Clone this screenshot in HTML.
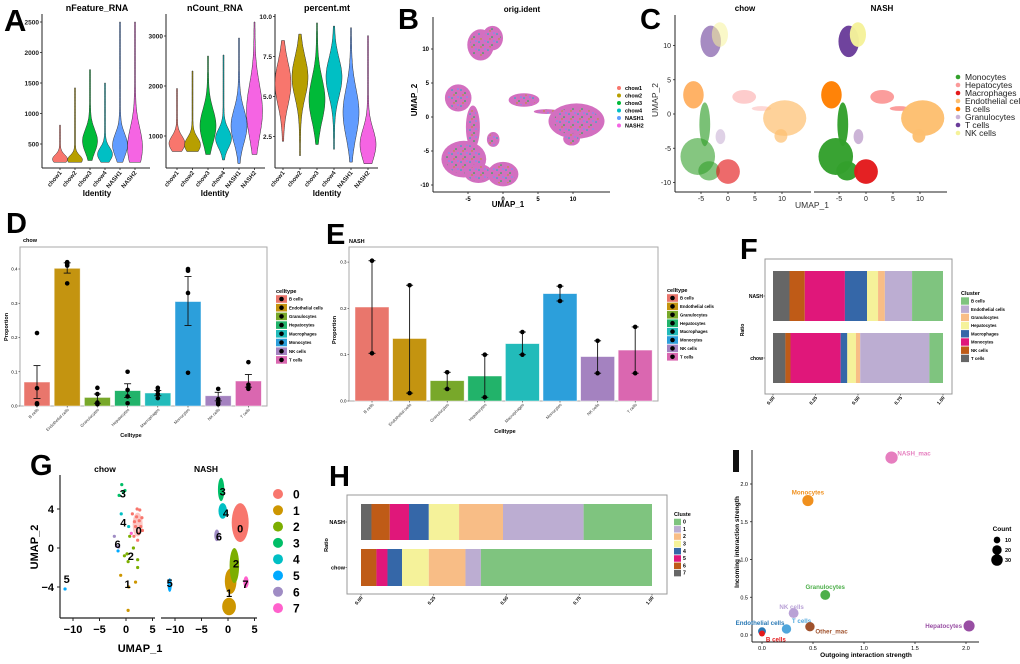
<!DOCTYPE html>
<html><head><meta charset="utf-8">
<style>
html,body{margin:0;padding:0;background:#fff;}
svg{display:block;font-family:"Liberation Sans",Arial,sans-serif;}
.b{font-weight:bold;}
</style></head>
<body>
<svg id="fig" width="1020" height="664" viewBox="0 0 1020 664" xmlns="http://www.w3.org/2000/svg">
<rect x="0" y="0" width="1020" height="664" fill="#fff"/>
<text x="4" y="31" font-size="31" class="b">A</text>
<text x="398" y="29" font-size="29" class="b">B</text>
<text x="640" y="29" font-size="29" class="b">C</text>
<text x="6" y="233" font-size="29" class="b">D</text>
<text x="326" y="244" font-size="29" class="b">E</text>
<text x="740" y="259" font-size="29" class="b">F</text>
<text x="30" y="475" font-size="29" class="b">G</text>
<text x="329" y="486" font-size="29" class="b">H</text>
<rect x="733" y="450" width="6" height="22" fill="#111"/>
<text x="97" y="11" font-size="9" class="b" text-anchor="middle">nFeature_RNA</text>
<text x="215" y="11" font-size="9" class="b" text-anchor="middle">nCount_RNA</text>
<text x="327" y="11" font-size="9" class="b" text-anchor="middle">percent.mt</text>
<text x="522" y="12" font-size="8" class="b" text-anchor="middle">orig.ident</text>
<text x="745" y="11" font-size="8" class="b" text-anchor="middle">chow</text>
<text x="882" y="11" font-size="8" class="b" text-anchor="middle">NASH</text>
<text x="23" y="242" font-size="5.5" class="b">chow</text>
<text x="349" y="243" font-size="5.5" class="b">NASH</text>
<text x="105" y="472" font-size="8.5" class="b" text-anchor="middle">chow</text>
<text x="206" y="472" font-size="8.5" class="b" text-anchor="middle">NASH</text>
<text x="97" y="196" font-size="8" class="b" text-anchor="middle">Identity</text>
<text x="215" y="196" font-size="8" class="b" text-anchor="middle">Identity</text>
<text x="327" y="196" font-size="8" class="b" text-anchor="middle">Identity</text>
<text x="508" y="207" font-size="8" class="b" text-anchor="middle">UMAP_1</text>
<text transform="translate(417,100) rotate(-90)" font-size="8" class="b" text-anchor="middle">UMAP_2</text>
<text x="812" y="208" font-size="8.5" text-anchor="middle" fill="#333">UMAP_1</text>
<text transform="translate(658,100) rotate(-90)" font-size="8.5" fill="#333" text-anchor="middle">UMAP_2</text>
<text x="131" y="437" font-size="5.5" class="b" text-anchor="middle">Celltype</text>
<text transform="translate(8,327) rotate(-90)" font-size="5.5" class="b" text-anchor="middle">Proportion</text>
<text x="505" y="433" font-size="5.5" class="b" text-anchor="middle">Celltype</text>
<text transform="translate(336,330) rotate(-90)" font-size="5.5" class="b" text-anchor="middle">Proportion</text>
<text transform="translate(744,330) rotate(-90)" font-size="5" class="b" text-anchor="middle">Ratio</text>
<text transform="translate(328,545) rotate(-90)" font-size="5.5" class="b" text-anchor="middle">Ratio</text>
<text x="140" y="652" font-size="11" class="b" text-anchor="middle">UMAP_1</text>
<text transform="translate(38,547) rotate(-90)" font-size="11" class="b" text-anchor="middle">UMAP_2</text>
<text x="866" y="657" font-size="6.5" class="b" text-anchor="middle">Outgoing interaction strength</text>
<text transform="translate(739,542) rotate(-90)" font-size="6.5" class="b" text-anchor="middle">Incoming interaction strength</text>
</svg>
<script>
const identities=['chow1','chow2','chow3','chow4','NASH1','NASH2'];
const featMin=[200,200,230,200,200,200];
const featCenter=[250,240,550,330,480,450];
const featSpread=[100,100,250,150,250,420];
const featMax=[810,1420,1720,1500,2500,2500];
const featTicks=[500,1000,1500,2000,2500];
const countMin=[690,690,630,520,450,630];
const countCenter=[850,820,1200,950,1200,1500];
const countSpread=[200,200,450,250,450,700];
const countMax=[1950,2300,2600,2620,2960,3280];
const countTicks=[1000,2000,3000];
const mtMin=[2.2,1.3,2.0,1.7,0.9,0.8];
const mtCenter=[5.8,6.2,4.8,6.2,4.0,2.0];
const mtSpread=[1.8,1.7,1.8,1.6,2.0,1.3];
const mtMax=[8.5,8.9,9.6,9.4,9.3,8.8];
const mtTicks=[2.5,5.0,7.5,10.0];

const umapTicksX=[-5,0,5,10];
const umapTicksY=[-10,-5,0,5,10];
const cellTypes=['Monocytes','Hepatocytes','Macrophages','Endothelial cells','B cells','Granulocytes','T cells','NK cells'];
const cellClusters=[[6,-3.2,10.6,1.9,2.3],[7,-1.5,11.6,1.5,1.8],[4,-6.4,2.8,1.9,2.0],[0,-4.3,-1.5,1.0,3.2],[0,-5.6,-6.2,3.2,2.7],[0,-3.5,-8.3,2.0,1.4],[2,0,-8.4,2.2,1.8],[5,-1.4,-3.3,0.9,1.1],[1,3,2.5,2.2,1.0],[1,6.2,0.8,1.8,0.35],[3,10.5,-0.6,4.0,2.6],[3,9.8,-3.2,1.2,1.0]];
const chowDensity=[0.6,0.55,0.6,0.65,0.6,0.6,0.65,0.6,0.5,0.4,0.7,0.7];

const ctNames=['B cells','Endothelial cells','Granulocytes','Hepatocytes','Macrophages','Monocytes','NK cells','T cells'];
const dMeans=[0.070,0.402,0.025,0.045,0.038,0.305,0.030,0.073];
const dLow=[0.022,0.388,0.008,0.025,0.030,0.235,0.015,0.055];
const dHigh=[0.118,0.418,0.035,0.065,0.045,0.378,0.040,0.092];
const dPoints=[[0.213,0.052,0.008,0.005],[0.420,0.415,0.410,0.358],[0.053,0.035,0.010,0.005],[0.100,0.047,0.028,0.008],[0.053,0.045,0.035,0.023],[0.400,0.395,0.330,0.097],[0.050,0.020,0.010,0.005],[0.128,0.062,0.055,0.050]];
const dTicks=[0,0.1,0.2,0.3,0.4];
const eMeans=[0.203,0.135,0.044,0.054,0.124,0.232,0.096,0.110];
const ePoints=[[0.303,0.103],[0.250,0.017],[0.062,0.026],[0.100,0.008],[0.149,0.100],[0.248,0.216],[0.130,0.060],[0.160,0.060]];
const eTicks=[0,0.1,0.2,0.3];

const fOrder=['T cells','NK cells','Monocytes','Macrophages','Hepatocytes','Granulocytes','Endothelial cells','B cells'];
const fNash=[0.097,0.090,0.236,0.130,0.065,0.040,0.160,0.182];
const fChow=[0.073,0.030,0.295,0.039,0.051,0.025,0.407,0.080];
const ratioTicks=[0,0.25,0.5,0.75,1.0];
const hOrder=['7','6','5','4','3','2','1','0'];
const hNash=[0.036,0.063,0.066,0.068,0.104,0.151,0.277,0.235];
const hChow=[0.000,0.053,0.038,0.050,0.092,0.126,0.053,0.588];

const gNash=[[0,2.3,2.6,1.6,2.0],[1,0.5,-3.4,1.1,1.3],[1,0.2,-6.0,1.3,0.9],[2,1.2,-1.8,0.9,1.8],[3,-1.3,6.0,0.6,1.2],[4,-1.0,3.8,0.8,0.8],[5,-11,-3.8,0.4,0.7],[6,-2.1,1.3,0.5,0.6],[7,3.4,-3.5,0.5,0.6]];
const gChowPts=[[0,1.2,3.5],[0,2,3.2],[0,2.5,2.8],[0,3,3.1],[0,1.8,2.2],[0,2.4,1.5],[0,1.5,1.2],[0,2.8,2.2],[0,2.1,4],[0,2.6,3.9],[0,1.6,2.7],[0,3.1,1.8],[0,2.2,0.8],
[1,-1,-2.8],[1,1.8,-3.5],[1,0.4,-6.4],[1,0.5,-4],[2,0.7,1.2],[2,1.4,0],[2,-0.3,-0.8],[2,0.4,-1.4],[2,2.2,-1.2],[2,2.2,-2],[2,0.2,-0.6],
[3,-0.8,6.5],[3,-1.3,5.4],[3,-0.5,5.7],[3,-0.2,5.9],[4,-0.9,3.5],[4,0.5,2.2],[5,-11.5,-4.2],[6,-2.2,1.2],[6,-1.8,0.2],[6,-1.4,0.1],[5,-1.5,-0.3],[7,1,1.5]];
const gLabels=[['0',2.3,2],['1',0.2,-4.6],['2',1.5,-1.6],['3',-1.0,5.8],['4',-0.4,3.6],['5',-11,-3.6],['6',-1.7,1.2],['7',3.3,-3.7]];
const gChowLabels=[['0',2.4,1.8],['1',0.3,-3.7],['2',0.9,-0.8],['3',-0.6,5.6],['4',-0.5,2.6],['5',-11.2,-3.2],['6',-1.6,0.4]];
const gTicksX=[-10,-5,0,5];
const gTicksY=[-4,0,4];

const iNames=['NASH_mac','Monocytes','Granulocytes','NK cells','T cells','Other_mac','Endothelial cells','B cells','Hepatocytes'];
const iOut=[1.27,0.45,0.62,0.31,0.24,0.47,0.00,0.00,2.03];
const iIn=[2.35,1.78,0.53,0.29,0.08,0.11,0.05,0.02,0.12];
const iCount=[34,28,22,22,20,20,14,8,28];
const iTicks=[0,0.5,1.0,1.5,2.0];
const iCountTicks=[10,20,30];

const NS='http://www.w3.org/2000/svg';
const svg=document.getElementById('fig');
function mk(tag,attrs,parent){const e=document.createElementNS(NS,tag);for(const k in attrs)e.setAttribute(k,attrs[k]);(parent||svg).appendChild(e);return e;}
function tx(x,y,s,attrs,parent){const e=mk('text',Object.assign({x:x,y:y},attrs),parent);e.textContent=s;return e;}
function grp(name){const g=mk('g',{});


return g;}
function line(x1,y1,x2,y2,c,w,p){return mk('line',{x1:x1,y1:y1,x2:x2,y2:y2,stroke:c,'stroke-width':w},p);}

const hueColors=['#F8766D','#B79F00','#00BA38','#00BFC4','#619CFF','#F564E3'];
function violinPanel(name,ax,axEnd,xs,ys,mins,cens,sprs,maxs,ticks,fmt,hw){
  const g=grp(name);
  line(ax,14,ax,168,'#222',1,g);line(ax,168,axEnd,168,'#222',1,g);
  ticks.forEach(t=>{const y=ys(t);line(ax-2,y,ax,y,'#222',0.8,g);
    const e=tx(ax-3,y+2.3,fmt(t),{'font-size':6.5,'font-weight':'bold','text-anchor':'end',fill:'#222'},g);
    
    });
  identities.forEach((id,i)=>{
    const cx=xs(i);let L=[],R=[];const n=50;
    for(let k=0;k<=n;k++){const v=mins[i]+(maxs[i]-mins[i])*k/n;const z=(v-cens[i])/sprs[i];
      const w=hw*Math.exp(-z*z*0.9)+0.5;L.push([cx-w,ys(v)]);R.push([cx+w,ys(v)]);}
    const d='M'+L.map(p=>p[0].toFixed(1)+','+p[1].toFixed(1)).join('L')+'L'+R.reverse().map(p=>p[0].toFixed(1)+','+p[1].toFixed(1)).join('L')+'Z';
    const p=mk('path',{d:d,fill:hueColors[i],stroke:'#333','stroke-width':0.5},g);
    
    
    line(cx,168,cx,170,'#222',0.8,g);
    const t=tx(0,0,id,{'font-size':6,'font-weight':'bold','text-anchor':'end',fill:'#222',transform:'translate('+(cx+2)+',173) rotate(-50)'},g);
    
    
  });
}
violinPanel('violin-nfeature',42,150,i=>60+i*15,v=>174.5-v*0.061,featMin,featCenter,featSpread,featMax,featTicks,t=>String(t),7);
violinPanel('violin-ncount',166,265,i=>177+i*15.5,v=>136-(v-1000)*0.05,countMin,countCenter,countSpread,countMax,countTicks,t=>String(t),7.5);
violinPanel('violin-percent-mt',275,378,i=>283+i*17,v=>96.5-(v-5)*16,mtMin,mtCenter,mtSpread,mtMax,mtTicks,t=>t.toFixed(1),7.5);

(function(){
  const g=grp('umap-orig-ident');
  const xs=v=>503+7*v, ys=v=>117-6.8*v;
  const defs=mk('defs',{});const pat=mk('pattern',{id:'mixdots',width:9,height:8,patternUnits:'userSpaceOnUse'},defs);
  mk('circle',{cx:2,cy:2,r:0.8,fill:'#00BFC4'},pat);mk('circle',{cx:6,cy:5,r:0.8,fill:'#00BA38'},pat);mk('circle',{cx:4,cy:7,r:0.7,fill:'#B79F00'},pat);mk('circle',{cx:8,cy:1,r:0.8,fill:'#619CFF'},pat);
  line(433,17,433,192,'#222',1,g);line(433,192,610,192,'#222',1,g);
  umapTicksX.forEach(t=>{line(xs(t),192,xs(t),194,'#222',.8,g);
    const e=tx(xs(t),201,String(t),{'font-size':6,'font-weight':'bold','text-anchor':'middle'},g);
    
    });
  umapTicksY.forEach(t=>{line(431,ys(t),433,ys(t),'#222',.8,g);
    const e=tx(429,ys(t)+2,String(t),{'font-size':6,'font-weight':'bold','text-anchor':'end'},g);
    
    });
  cellClusters.forEach((c,i)=>{
    const e=mk('ellipse',{cx:xs(c[1]),cy:ys(c[2]),rx:c[3]*7,ry:c[4]*6.8,fill:'#D36FC0'},g);
    
    
    const e2=mk('ellipse',{cx:xs(c[1]),cy:ys(c[2]),rx:c[3]*7*0.8,ry:c[4]*6.8*0.8,fill:'url(#mixdots)'},g);
    
    
  });
  identities.forEach((id,i)=>{const y=88+i*7.5;
    const c=mk('circle',{cx:619,cy:y,r:2,fill:hueColors[i]},g);
    
    
    const t=tx(625,y+2,id,{'font-size':5.5,'font-weight':'bold'},g);
    
    });
})();

const ctColors=['#33a02c','#fb9a99','#e31a1c','#fdbf6f','#ff7f00','#cab2d6','#6a3d9a','#f5f29a'];
(function(){
  const g=grp('umap-celltype-split');
  const ys=v=>114-6.85*v;
  line(675,15,675,192,'#222',1,g);line(675,192,811,192,'#222',1,g);line(814,192,947,192,'#222',1,g);
  umapTicksY.forEach(t=>{line(673,ys(t),675,ys(t),'#222',.8,g);
    const e=tx(671,ys(t)+2.5,String(t),{'font-size':7,'text-anchor':'end',fill:'#222'},g);
    
    });
  [728,866].forEach((x0,pi)=>{
    const xs=v=>x0+5.4*v;
    umapTicksX.forEach(t=>{line(xs(t),192,xs(t),194,'#222',.8,g);
      const e=tx(xs(t),201,String(t),{'font-size':7,'text-anchor':'middle',fill:'#222'},g);
      
      });
    cellClusters.forEach((c,i)=>{
      const op=pi===0?chowDensity[i]:0.97;
      const e=mk('ellipse',{cx:xs(c[1]),cy:ys(c[2]),rx:c[3]*5.4,ry:c[4]*6.85,fill:ctColors[c[0]],'fill-opacity':op},g);
      
      
    });
  });
  cellTypes.forEach((n,i)=>{const y=77+i*8;
    const c=mk('circle',{cx:958,cy:y,r:2.3,fill:ctColors[i]},g);
    
    
    const t=tx(965,y+3,n,{'font-size':8.5,fill:'#222'},g);
    
    });
})();

const hueColors8=['#E9766C','#C49410','#78A82A','#22B36A','#22BBBA','#2C9FDB','#A482C0','#DA67B0'];
function barPanel(name,box,xs,ys,means,ticks,pts,lows,highs,bw,legX,legY,legStep){
  const g=grp(name);
  mk('rect',{x:box[0],y:box[1],width:box[2]-box[0],height:box[3]-box[1],fill:'#fff',stroke:'#aaa','stroke-width':1},g);
  ticks.forEach(t=>{line(box[0]-1.5,ys(t),box[0],ys(t),'#333',.6,g);
    const e=tx(box[0]-2.5,ys(t)+1.5,t.toFixed(1),{'font-size':4.5,'text-anchor':'end'},g);
    
    });
  ctNames.forEach((n,i)=>{
    const cx=xs(i);
    const r=mk('rect',{x:cx-bw/2,y:ys(means[i]),width:bw,height:ys(0)-ys(means[i]),fill:hueColors8[i],stroke:'#fff','stroke-opacity':0.6,'stroke-width':0.8},g);
    
    
    const lo=lows?lows[i]:Math.min(...pts[i]), hi=highs?highs[i]:Math.max(...pts[i]);
    line(cx,ys(lo),cx,ys(hi),'#111',0.9,g);line(cx-3.5,ys(lo),cx+3.5,ys(lo),'#111',0.9,g);line(cx-3.5,ys(hi),cx+3.5,ys(hi),'#111',0.9,g);
    pts[i].forEach(v=>{const c=mk('circle',{cx:cx,cy:ys(v),r:2.3,fill:'#000'},g);
      
      });
    line(cx,box[3],cx,box[3]+1.5,'#333',.6,g);
    const t=tx(0,0,n,{'font-size':4.2,'text-anchor':'end',fill:'#333',transform:'translate('+(cx+2)+','+(box[3]+4)+') rotate(-45)'},g);
    
    
  });
  const lt=tx(legX,legY-6,'celltype',{'font-size':5.5,'font-weight':'bold'},g);
  
  
  ctNames.forEach((n,i)=>{const y=legY+i*legStep;
    const r=mk('rect',{x:legX,y:y-3.8,width:11,height:7.6,fill:hueColors8[i]},g);
    
    
    mk('circle',{cx:legX+5.5,cy:y,r:2.3,fill:'#000'},g);
    const t=tx(legX+13,y+1.6,n,{'font-size':4.3,'font-weight':'bold'},g);
    
    });
}
barPanel('bar-chart-chow',[20,247,267,406],i=>37+i*30.2,v=>406-342.5*v,dMeans,dTicks,dPoints,dLow,dHigh,26,276,299,8.7);
barPanel('bar-chart-nash',[349,247,658,401],i=>372+i*37.6,v=>401-463*v,eMeans,eTicks,ePoints,null,null,34,667,298,8.4);

const fColors={'T cells':'#666666','NK cells':'#bf5b17','Monocytes':'#e0177a','Macrophages':'#3567a8','Hepatocytes':'#f5f29a','Granulocytes':'#f8bd86','Endothelial cells':'#bcadd2','B cells':'#7fc47f'};
const hColors={'7':'#666666','6':'#bf5b17','5':'#e0177a','4':'#3567a8','3':'#f5f29a','2':'#f8bd86','1':'#bcadd2','0':'#7fc47f'};
function stackPanel(name,box,x0,x1,rows,order,colors,legX,legY,legStep,legTitle,fs,legKW){
  const g=grp(name);
  mk('rect',{x:box[0],y:box[1],width:box[2]-box[0],height:box[3]-box[1],fill:'#fff',stroke:'#999','stroke-width':1},g);
  const xs=v=>x0+(x1-x0)*v;
  rows.forEach(r=>{let acc=0;
    r.vals.forEach((v,i)=>{if(v<=0)return;
      const e=mk('rect',{x:xs(acc),y:r.y0,width:xs(acc+v)-xs(acc),height:r.y1-r.y0,fill:colors[order[i]]},g);
      
      
      acc+=v;});
    line(box[0]-1.5,(r.y0+r.y1)/2,box[0],(r.y0+r.y1)/2,'#333',.6,g);
    const t=tx(box[0]-2,(r.y0+r.y1)/2+2,r.label,{'font-size':fs,'font-weight':'bold','text-anchor':'end'},g);
    
    
  });
  ratioTicks.forEach(t=>{line(xs(t),box[3],xs(t),box[3]+1.5,'#333',.6,g);
    const e=tx(0,0,t.toFixed(2),{'font-size':4.8,'font-weight':'bold','text-anchor':'end',transform:'translate('+(xs(t)+2)+','+(box[3]+4)+') rotate(-50)'},g);
    
    });
  const lt=tx(legX,legY-6,legTitle,{'font-size':5.5,'font-weight':'bold'},g);
  
  
  order.slice().reverse().forEach((n,i)=>{const y=legY+i*legStep;
    const r=mk('rect',{x:legX,y:y-legStep/2+0.4,width:legKW,height:legStep-0.8,fill:colors[n]},g);
    
    
    const t=tx(legX+legKW+2,y+1.6,n,{'font-size':legTitle==='Cluster'?4.3:5.2,'font-weight':'bold'},g);
    
    });
}
stackPanel('stacked-bar-celltype',[765,259,952,394],773,943,[{label:'NASH',vals:fNash,y0:271,y1:321},{label:'chow',vals:fChow,y0:333,y1:383}],fOrder,fColors,961,301,8.2,'Cluster',5,8);
stackPanel('stacked-bar-cluster',[347,495,667,594],361,652,[{label:'NASH',vals:hNash,y0:504,y1:540},{label:'chow',vals:hChow,y0:549,y1:586}],hOrder,hColors,674,522,7.3,'Cluste',5.5,7);

(function(){
  const g=grp('umap-cluster-split');
  const ys=v=>548-9.75*v;
  const gc=['#F8766D','#CD9600','#7CAE00','#00BE67','#00BFC4','#00A9FF','#9F8CC4','#FF61CC'];
  line(60,475,60,618,'#222',1.2,g);line(60,618,155,618,'#222',1.2,g);line(161,618,257,618,'#222',1.2,g);
  gTicksY.forEach(t=>{line(57,ys(t),60,ys(t),'#222',1,g);
    const e=tx(54,ys(t)+4,(t<0?'\u2212'+(-t):String(t)),{'font-size':11,'font-weight':'bold','text-anchor':'end'},g);
    
    });
  [[126,true],[228,false]].forEach(([x0,isChow])=>{
    const xs=v=>x0+5.3*v;
    gTicksX.forEach(t=>{line(xs(t),618,xs(t),621,'#222',1,g);
      const e=tx(xs(t),633,(t<0?'\u2212'+(-t):String(t)),{'font-size':11,'font-weight':'bold','text-anchor':'middle'},g);
      
      });
    if(isChow){
      const bl=mk('ellipse',{cx:xs(2.2),cy:ys(2.4),rx:5,ry:12,fill:'#F8766D','fill-opacity':0.4},g);
      
      
      gChowPts.forEach(p=>{const c=mk('circle',{cx:xs(p[1]),cy:ys(p[2]),r:1.6,fill:gc[p[0]]},g);
        
        });
      gChowLabels.forEach(l=>{const t=tx(xs(l[1]),ys(l[2])+4,l[0],{'font-size':11,'font-weight':'bold','text-anchor':'middle'},g);
        
        });
    } else {
      gNash.forEach(c=>{const e=mk('ellipse',{cx:xs(c[1]),cy:ys(c[2]),rx:c[3]*5.3,ry:c[4]*9.75,fill:gc[c[0]]},g);
        
        });
      gLabels.forEach(l=>{const t=tx(xs(l[1]),ys(l[2])+4,l[0],{'font-size':11,'font-weight':'bold','text-anchor':'middle'},g);
        
        });
    }
  });
  gc.forEach((c,i)=>{const y=494+i*16.3;
    const d=mk('circle',{cx:278,cy:y,r:5,fill:c},g);
    
    
    const t=tx(293,y+4.5,String(i),{'font-size':12,'font-weight':'bold'},g);
    
    });
})();

(function(){
  const g=grp('interaction-scatter');
  const xs=v=>762+102*v, ys=v=>635-75.5*v, rs=c=>Math.sqrt(c)*1.05;
  const col=['#E67EBF','#F0901E','#4DAF4A','#B9A1D6','#4FA6DC','#A0522D','#2878B5','#E41A1C','#984EA3'];
  line(752,450,752,642,'#222',1,g);line(752,642,979,642,'#222',1,g);
  iTicks.forEach(t=>{line(xs(t),642,xs(t),644,'#222',.8,g);
    const e=tx(xs(t),650,t.toFixed(1),{'font-size':5.5,'text-anchor':'middle'},g);
    
    
    line(750,ys(t),752,ys(t),'#222',.8,g);
    const e2=tx(748,ys(t)+2,t.toFixed(1),{'font-size':5.5,'text-anchor':'end'},g);
    
    });
  const lab=[[4,-2,'start'],[0,-6,'middle'],[0,-6,'middle'],[-2,-4,'middle'],[4,-6,'start'],[4,7,'start'],[-2,-6,'middle'],[3,8,'start'],[-7,2,'end']];
  iNames.forEach((n,i)=>{const x=xs(iOut[i]),y=ys(iIn[i]);
    const c=mk('circle',{cx:x,cy:y,r:rs(iCount[i]),fill:col[i]},g);
    
    
    const t=tx(x+lab[i][0]+(lab[i][2]==='start'?rs(iCount[i])*0.3:0),y+lab[i][1],n,{'font-size':6.2,'font-weight':'bold','text-anchor':lab[i][2],fill:col[i]},g);
    
    });
  const lt=tx(1002,531,'Count',{'font-size':6.5,'font-weight':'bold','text-anchor':'middle'},g);
  
  
  iCountTicks.forEach((c,i)=>{const y=540+i*10;
    const d=mk('circle',{cx:997,cy:y,r:rs(c),fill:'#000'},g);
    
    
    const t=tx(1005,y+2,String(c),{'font-size':5.5,'font-weight':'bold'},g);
    
    });
})();
</script>
</body></html>
